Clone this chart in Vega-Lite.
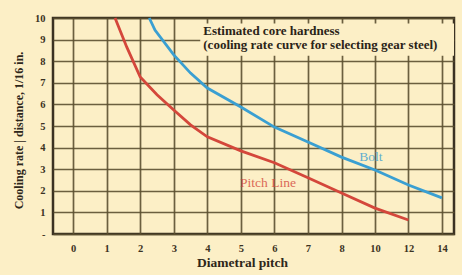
{
  "$schema": "https://vega.github.io/schema/vega-lite/v6.json",
  "width": 401,
  "height": 216,
  "autosize": {"type": "none"},
  "padding": {"left": 53, "top": 18, "right": 8, "bottom": 41},
  "background": "#fcefc6",
  "config": {
    "font": "Liberation Serif",
    "view": {"stroke": "#3b3222", "strokeWidth": 2.5, "fill": "#fcefc6"},
    "axis": {
      "labelFont": "Liberation Serif",
      "titleFont": "Liberation Serif",
      "labelColor": "#3b3222",
      "titleColor": "#2e271a",
      "labelFontWeight": "bold",
      "titleFontWeight": "bold",
      "labelFontSize": 10.5,
      "ticks": false,
      "tickSize": 0,
      "domain": false,
      "gridColor": "#5b4f30",
      "gridWidth": 1.7,
      "gridOpacity": 0.9
    }
  },
  "datasets": {
    "curves": [
      {"series": "Pitch Line", "x": 1.25, "y": 10},
      {"series": "Pitch Line", "x": 1.6, "y": 8.65},
      {"series": "Pitch Line", "x": 2, "y": 7.27},
      {"series": "Pitch Line", "x": 2.5, "y": 6.45},
      {"series": "Pitch Line", "x": 3, "y": 5.74},
      {"series": "Pitch Line", "x": 3.5, "y": 5.05},
      {"series": "Pitch Line", "x": 4, "y": 4.5},
      {"series": "Pitch Line", "x": 5, "y": 3.85},
      {"series": "Pitch Line", "x": 6, "y": 3.3},
      {"series": "Pitch Line", "x": 7, "y": 2.6},
      {"series": "Pitch Line", "x": 8, "y": 1.9},
      {"series": "Pitch Line", "x": 10, "y": 1.2},
      {"series": "Pitch Line", "x": 12, "y": 0.65},
      {"series": "Bolt", "x": 2.27, "y": 10},
      {"series": "Bolt", "x": 2.44, "y": 9.44},
      {"series": "Bolt", "x": 3, "y": 8.29},
      {"series": "Bolt", "x": 3.5, "y": 7.45},
      {"series": "Bolt", "x": 4, "y": 6.76},
      {"series": "Bolt", "x": 5, "y": 5.88},
      {"series": "Bolt", "x": 6, "y": 4.95},
      {"series": "Bolt", "x": 7, "y": 4.26},
      {"series": "Bolt", "x": 8, "y": 3.56},
      {"series": "Bolt", "x": 10, "y": 2.96},
      {"series": "Bolt", "x": 12, "y": 2.27},
      {"series": "Bolt", "x": 14, "y": 1.67}
    ],
    "box": [{"x": 3.79, "x2": 14.72, "y": 9.75, "y2": 8.25}],
    "boxText": [
      {"x": 3.88, "y": 9.4, "label": "Estimated core hardness"},
      {"x": 3.88, "y": 8.75, "label": "(cooling rate curve for selecting gear steel)"}
    ],
    "curveText": [
      {"series": "Pitch Line", "x": 5.81, "y": 2.36, "label": "Pitch Line"},
      {"series": "Bolt", "x": 9.76, "y": 3.56, "label": "Bolt"}
    ]
  },
  "encoding": {
    "x": {
      "field": "x",
      "type": "quantitative",
      "scale": {"domain": [-0.6, 8, 14.72], "range": [0, 288.5, 401], "nice": false, "zero": false},
      "axis": {
        "values": [0, 1, 2, 3, 4, 5, 6, 7, 8, 10, 12, 14],
        "title": "Diametral pitch",
        "titleFontSize": 13.5,
        "labelPadding": 9,
        "titleX": 189,
        "titleY": 21,
        "titleBaseline": "top"
      }
    },
    "y": {
      "field": "y",
      "type": "quantitative",
      "scale": {"domain": [0, 10], "nice": false, "zero": false},
      "axis": {
        "values": [0, 1, 2, 3, 4, 5, 6, 7, 8, 9, 10],
        "labelExpr": "datum.value == 0 ? '-' : datum.label",
        "title": "Cooling rate | distance, 1/16 in.",
        "titleFontSize": 12,
        "labelPadding": 8,
        "titleX": -28,
        "titleY": 112
      }
    }
  },
  "layer": [
    {
      "data": {"name": "box"},
      "mark": {"type": "rect", "fill": "#fcefc6", "stroke": null},
      "encoding": {"x2": {"field": "x2"}, "y2": {"field": "y2"}}
    },
    {
      "data": {"name": "curves"},
      "mark": {"type": "line", "strokeWidth": 2.8, "interpolate": "linear"},
      "encoding": {
        "color": {
          "field": "series",
          "type": "nominal",
          "scale": {"domain": ["Pitch Line", "Bolt"], "range": ["#d4473b", "#3a9fd2"]},
          "legend": null
        },
        "detail": {"field": "series"}
      }
    },
    {
      "data": {"name": "curveText"},
      "mark": {"type": "text", "fontSize": 13.5, "align": "center", "baseline": "middle", "opacity": 0.8},
      "encoding": {
        "text": {"field": "label"},
        "color": {"field": "series", "type": "nominal", "scale": {"domain": ["Pitch Line", "Bolt"], "range": ["#d4473b", "#3a9fd2"]}, "legend": null}
      }
    },
    {
      "data": {"name": "boxText"},
      "mark": {"type": "text", "fontSize": 13, "fontWeight": "bold", "align": "left", "baseline": "middle", "color": "#2b2418"},
      "encoding": {"text": {"field": "label"}}
    }
  ]
}
